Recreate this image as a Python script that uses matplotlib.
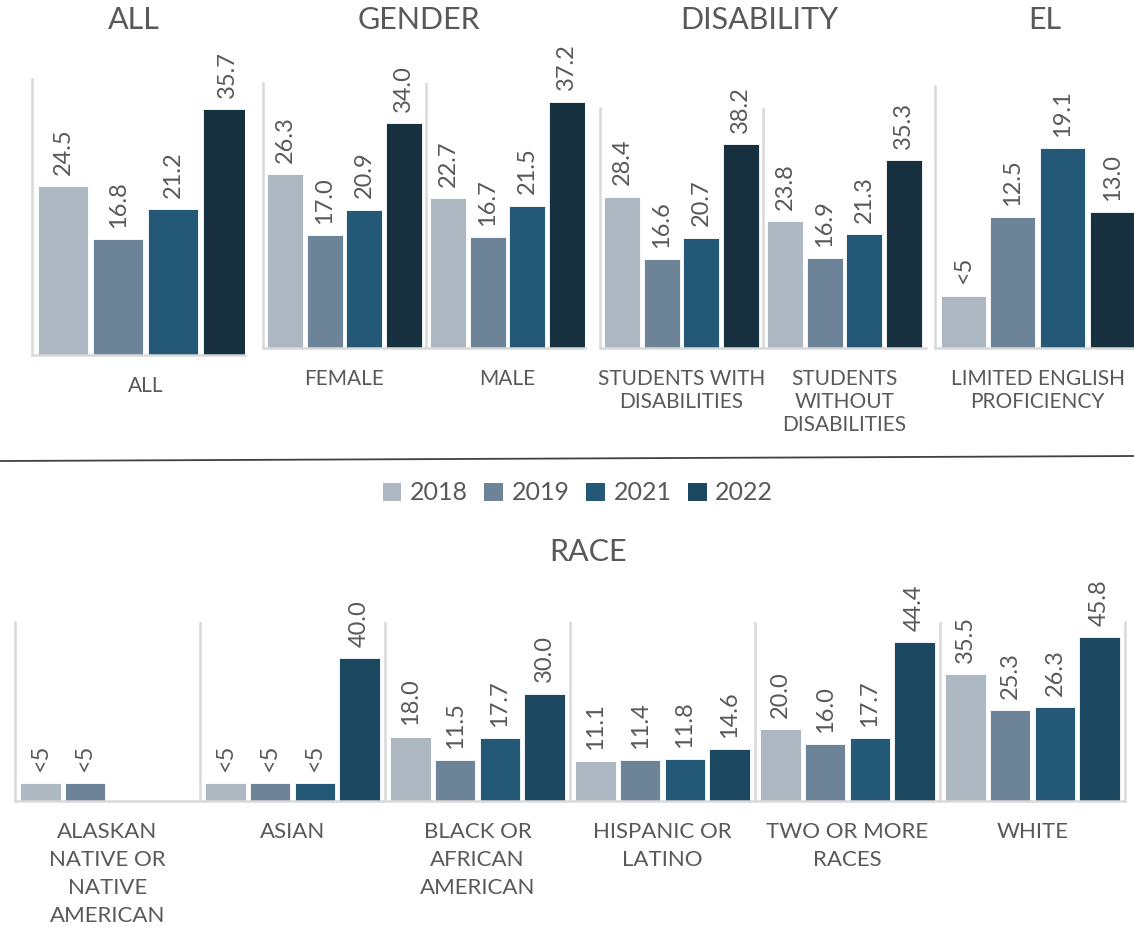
import matplotlib
matplotlib.use("Agg")
import matplotlib.pyplot as plt
from matplotlib.patches import Patch
from matplotlib.lines import Line2D

plt.rcParams['font.family'] = ['Lato', 'DejaVu Sans']

# --- data ---
years = ['2018', '2019', '2021', '2022']
SUPPRESSED = 5  # bar height drawn for "<5" cells

all_labels = ['ALL']
all_values = [[24.5, 16.8, 21.2, 35.7]]

gender_labels = ['FEMALE', 'MALE']
gender_values = [[26.3, 17.0, 20.9, 34.0],
                 [22.7, 16.7, 21.5, 37.2]]

disability_labels = ['STUDENTS WITH\nDISABILITIES', 'STUDENTS\nWITHOUT\nDISABILITIES']
disability_values = [[28.4, 16.6, 20.7, 38.2],
                     [23.8, 16.9, 21.3, 35.3]]

el_labels = ['LIMITED ENGLISH\nPROFICIENCY']
el_values = [['<5', 12.5, 19.1, 13.0]]

race_labels = ['ALASKAN\nNATIVE OR\nNATIVE\nAMERICAN', 'ASIAN', 'BLACK OR\nAFRICAN\nAMERICAN',
               'HISPANIC OR\nLATINO', 'TWO OR MORE\nRACES', 'WHITE']
race_values = [['<5', '<5', None, None],
               ['<5', '<5', '<5', 40.0],
               [18.0, 11.5, 17.7, 30.0],
               [11.1, 11.4, 11.8, 14.6],
               [20.0, 16.0, 17.7, 44.4],
               [35.5, 25.3, 26.3, 45.8]]

colors_top = ['#adb8c3', '#6c8398', '#235876', '#16303f']
colors_race = ['#adb8c3', '#6c8398', '#235876', '#1d4861']

TEXT = '#595959'
AXIS = '#d9d9d9'
W, H = 1134, 933

fig = plt.figure(figsize=(W / 100, H / 100), dpi=100)


def px_axes(x0, x1, ytop, ybase):
    return fig.add_axes([x0 / W, 1 - ybase / H, (x1 - x0) / W, (ybase - ytop) / H])


def draw_panel(ax, labels, values, colors, ymax, width_cats, label_size, linespacing,
               right_line=False):
    step, bw = 0.242, 0.22
    n = len(labels)
    for i, row in enumerate(values):
        for j, v in enumerate(row):
            if v is None:
                continue
            h = SUPPRESSED if v == '<5' else v
            txt = '<5' if v == '<5' else f'{v:.1f}'
            x = i + (j - 1.5) * step
            ax.bar(x, h, width=bw, color=colors[j], edgecolor='white', linewidth=0.6, zorder=2)
            ax.annotate(txt, (x, h), xytext=(0, 8), textcoords='offset points',
                        rotation=90, ha='center', va='bottom', fontsize=17, color=TEXT)
    ax.set_xlim(-0.5, -0.5 + width_cats)
    ax.set_ylim(0, ymax)
    for k in range(n - 1):
        ax.axvline(k + 0.5, color=AXIS, lw=1.8, zorder=1)
    ax.set_yticks([])
    ax.set_xticks(range(n))
    ax.set_xticklabels(labels, fontsize=label_size, color=TEXT, linespacing=linespacing)
    ax.tick_params(axis='x', length=0, pad=15)
    for s in ['top', 'right']:
        ax.spines[s].set_visible(False)
    if right_line:
        ax.spines['right'].set_visible(True)
    for s in ['left', 'bottom', 'right']:
        ax.spines[s].set_color(AXIS)
        ax.spines[s].set_linewidth(1.8)
    ax.patch.set_alpha(0)


# --- top row ---
ax = px_axes(32, 245, 79, 355)
draw_panel(ax, all_labels, all_values, colors_top, 40, 213 / 227, 15, 1.2)
ax = px_axes(263, 585, 83, 348)
draw_panel(ax, gender_labels, gender_values, colors_top, 40, 322 / 163, 15, 1.2)
ax = px_axes(600, 926, 108, 348)
draw_panel(ax, disability_labels, disability_values, colors_top, 45, 326 / 163, 15, 1.2)
ax = px_axes(935, 1134, 86, 348)
draw_panel(ax, el_labels, el_values, colors_top, 25, 199 / 205.5, 15, 1.2)

# --- race ---
ax = px_axes(15, 1125, 622, 801)
draw_panel(ax, race_labels, race_values, colors_race, 50, 6.0, 16, 1.5, right_line=True)

# --- titles ---
for title, xc, yc in [('ALL', 134, 20), ('GENDER', 419, 20), ('DISABILITY', 759, 20),
                      ('EL', 1045, 20), ('RACE', 588, 552)]:
    fig.text(xc / W, 1 - yc / H, title, fontsize=22, color=TEXT, ha='center', va='center')

# divider
fig.add_artist(Line2D([0, 1], [1 - 461 / H, 1 - 456 / H], color='#404040', lw=1.3))

# legend
handles = [Patch(facecolor=c, edgecolor='none') for c in colors_race]
fig.legend(handles, years, loc='center', bbox_to_anchor=(578 / W, 1 - 493 / H), ncol=4,
           frameon=False, fontsize=18, labelcolor=TEXT, handlelength=0.75, handleheight=0.75,
           handletextpad=0.35, columnspacing=0.65)

fig.savefig('out.png', dpi=100, facecolor='white')
